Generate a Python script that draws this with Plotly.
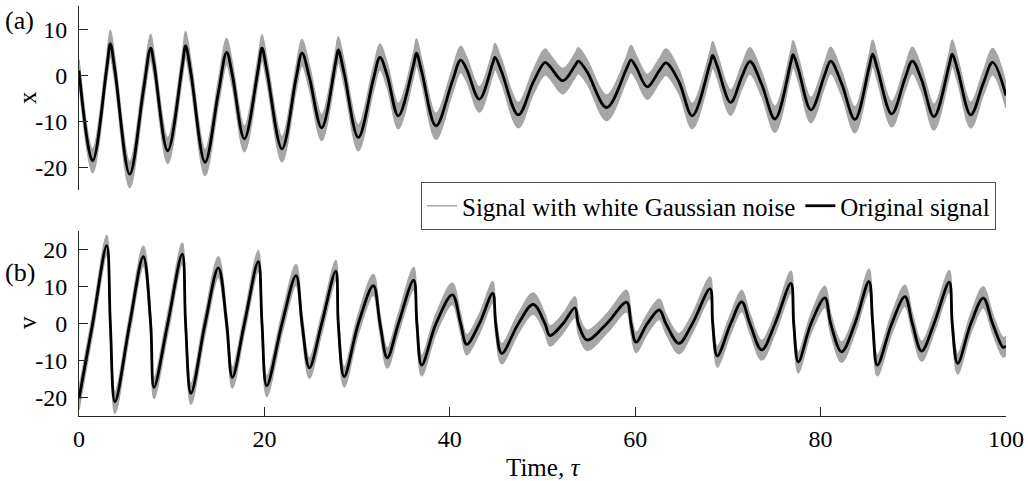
import plotly.graph_objects as go
from plotly.subplots import make_subplots

# ---- displacement x(τ): turning points and inflections of the clean response ----
t_x = [0, 1.47, 2.99, 3.38, 3.88, 5.47, 6.94, 7.73, 8.09, 9.57,
       11.14, 11.5, 12.08, 13.6, 15.03, 15.93, 16.54, 17.84, 19.34, 19.74,
       20.25, 21.9, 23.41, 24.06, 24.85, 26.18, 27.7, 27.97, 28.6, 30.13,
       31.75, 32.47, 33.26, 34.45, 36.1, 36.4, 36.97, 38.51, 40.27, 41.17,
       41.82, 43.19, 44.63, 44.88, 45.6, 47.39, 49.0, 50.27, 50.8, 52.2,
       53.5, 53.86, 54.8, 56.92, 59.08, 59.55, 60.09, 61.3, 62.6, 63.32,
       64.72, 66.16, 68.07, 68.36, 68.86, 70.3, 71.49, 72.38, 73.65, 75.08,
       76.8, 77.03, 77.6, 78.96, 80.47, 81.09, 82.27, 83.7, 85.22, 85.62,
       86.12, 87.67, 89.1, 89.9, 90.9, 92.23, 93.88, 94.2, 94.79, 96.2,
       97.55, 98.56, 100]
x_orig = [1.0, -18.6, 1.5, 6.8, 1.0, -21.5, -3.4, 5.9, 2.5, -16.4,
          2.0, 6.4, 0.4, -18.9, -3.8, 5.0, 0.1, -13.8, 1.5, 5.9,
          1.2, -16.0, -0.7, 4.8, -0.4, -11.4, 3.0, 5.5, 0.5, -13.5,
          -0.9, 3.9, -0.1, -8.8, 2.4, 4.8, 0.8, -11.0, -1.3, 3.3,
          1.3, -5.2, 2.6, 3.9, 0.7, -8.6, -1.5, 2.8, 1.9, -1.2,
          2.1, 3.1, 0.8, -7.0, 1.5, 3.3, 1.8, -2.5, 1.0, 2.7,
          -1.4, -8.8, 2.5, 4.3, 1.9, -5.9, -0.4, 3.0, -2.0, -9.5,
          2.9, 4.5, 1.3, -7.5, 0.3, 3.1, -1.8, -9.6, 1.6, 4.6,
          1.5, -8.4, -0.7, 3.1, -1.0, -9.0, 2.3, 4.6, 1.1, -8.6,
          -1.7, 2.8, -4.4]
# upper / lower extent of the noisy record at the same instants
x_noisy_hi = [3.4, -16.0, 4.1, 9.8, 3.6, -18.8, -0.8, 8.9, 5.1, -13.6,
              4.6, 9.5, 3.0, -16.2, -1.2, 8.0, 2.7, -11.1, 4.1, 8.8,
              3.8, -13.3, 1.9, 7.8, 2.2, -8.6, 5.6, 8.4, 3.1, -10.8,
              1.7, 6.8, 2.5, -6.1, 5.0, 7.9, 3.4, -8.3, 1.3, 6.3,
              3.9, -2.5, 5.2, 6.9, 3.3, -5.9, 1.1, 5.7, 4.5, 1.5,
              4.7, 6.0, 3.4, -4.3, 4.1, 6.5, 4.4, 0.2, 3.6, 5.7,
              1.2, -6.1, 5.1, 7.3, 4.5, -3.2, 2.2, 6.0, 0.6, -6.8,
              5.5, 7.5, 3.9, -4.8, 2.9, 6.1, 0.8, -6.9, 4.2, 7.6,
              4.1, -5.7, 1.9, 6.1, 1.6, -6.3, 4.9, 7.7, 3.7, -5.9,
              0.9, 5.8, -1.7]
x_noisy_lo = [-1.6, -21.2, -1.0, 4.0, -1.6, -24.4, -6.0, 3.2, -0.1, -19.2,
              -0.6, 3.7, -2.2, -21.8, -6.4, 2.3, -2.5, -16.6, -1.1, 3.2,
              -1.4, -18.8, -3.3, 2.1, -3.0, -14.2, 0.4, 2.8, -2.1, -16.4,
              -3.5, 1.2, -2.7, -11.6, -0.2, 2.1, -1.8, -13.9, -3.9, 0.6,
              -1.3, -8.0, 0.0, 1.2, -1.9, -11.4, -4.1, 0.1, -0.7, -4.0,
              -0.5, 0.4, -1.8, -9.8, -1.1, 0.6, -0.8, -5.2, -1.6, 0.0,
              -4.0, -11.6, -0.1, 1.6, -0.7, -8.7, -3.0, 0.3, -4.6, -12.4,
              0.3, 1.8, -1.3, -10.3, -2.3, 0.4, -4.4, -12.5, -1.0, 1.9,
              -1.1, -11.2, -3.3, 0.4, -3.6, -11.9, -0.3, 1.9, -1.5, -11.4,
              -4.3, 0.1, -7.1]

# ---- velocity v(τ): troughs, zero crossings and peaks ----
t_v = [0, 1.47, 2.99, 3.38, 3.88, 5.47, 6.94, 7.73, 8.09, 9.57,
       11.14, 11.5, 12.08, 13.6, 15.03, 15.93, 16.54, 17.84, 19.34, 19.74,
       20.25, 21.9, 23.41, 24.06, 24.85, 26.18, 27.7, 27.97, 28.6, 30.13,
       31.75, 32.47, 33.26, 34.45, 36.1, 36.45, 36.97, 38.51, 40.27, 41.17,
       41.82, 43.19, 44.63, 44.95, 45.6, 47.39, 49.0, 50.27, 50.8, 52.2,
       53.5, 53.86, 54.8, 56.92, 59.08, 59.55, 60.09, 61.3, 62.6, 63.32,
       64.72, 66.16, 68.07, 68.36, 68.86, 70.3, 71.49, 72.38, 73.65, 75.08,
       76.8, 77.1, 77.6, 78.96, 80.47, 81.09, 82.27, 83.7, 85.22, 85.62,
       86.12, 87.67, 89.1, 89.9, 90.9, 92.23, 93.88, 94.2, 94.79, 96.2,
       97.55, 98.56, 99.7, 100]
v_orig = [-20.2, 0, 21.1, 0, -21.1, 0, 18.1, 0, -17.2, 0,
          18.8, 0, -18.8, 0, 15.1, 0, -14.5, 0, 16.8, 0,
          -16.8, 0, 13.0, 0, -11.9, 0, 14.2, 0, -14.3, 0,
          10.3, 0, -9.2, 0, 11.8, 0, -11.2, 0, 7.8, 0,
          -5.6, 0, 8.2, 0, -8.0, 0, 5.2, 0, -3.2, 0,
          4.3, 0, -4.4, 0, 5.8, 0, -5.0, 0, 3.7, 0,
          -5.3, 0, 9.4, 0, -8.7, 0, 5.9, 0, -7.1, 0,
          10.9, 0, -10.3, 0, 7.0, 0, -7.6, 0, 11.4, 0,
          -11.2, 0, 7.3, 0, -7.4, 0, 11.2, 0, -10.7, 0,
          6.9, 0, -6.4, -6.0]
v_noisy_hi = [-17.5, 2.6, 23.9, 2.7, -18.5, 2.5, 21.0, 2.6, -14.6, 2.7,
              21.8, 2.5, -16.2, 2.7, 18.1, 2.6, -11.9, 2.5, 19.7, 2.6,
              -14.2, 2.6, 16.0, 2.7, -9.3, 2.5, 17.1, 2.6, -11.7, 2.6,
              13.3, 2.5, -6.6, 2.6, 15.2, 2.7, -8.6, 2.6, 10.9, 2.5,
              -3.0, 2.6, 11.4, 2.6, -5.4, 2.7, 8.3, 2.5, -0.6, 2.6,
              7.3, 2.6, -1.8, 2.6, 9.0, 2.7, -2.4, 2.6, 6.7, 2.5,
              -2.7, 2.6, 12.6, 2.6, -6.1, 2.6, 9.0, 2.6, -4.5, 2.5,
              14.2, 2.6, -7.7, 2.6, 10.1, 2.6, -5.0, 2.5, 14.7, 2.6,
              -8.6, 2.6, 10.4, 2.6, -4.8, 2.6, 14.4, 2.5, -8.1, 2.6,
              10.0, 2.6, -3.8, -3.4]
v_noisy_lo = [-23.2, -2.6, 18.5, -2.7, -24.2, -2.6, 15.5, -2.5, -20.2, -2.7,
              16.2, -2.6, -21.8, -2.7, 12.5, -2.6, -17.4, -2.5, 14.2, -2.7,
              -19.7, -2.6, 10.4, -2.7, -14.7, -2.6, 11.6, -2.5, -17.1, -2.7,
              7.7, -2.6, -12.0, -2.6, 9.2, -2.7, -14.1, -2.6, 5.2, -2.5,
              -8.4, -2.6, 5.6, -2.7, -10.8, -2.6, 2.6, -2.6, -6.0, -2.5,
              1.7, -2.7, -7.2, -2.6, 3.2, -2.6, -7.8, -2.7, 1.1, -2.6,
              -8.1, -2.5, 6.8, -2.7, -11.7, -2.6, 3.3, -2.6, -9.8, -2.7,
              8.3, -2.6, -13.3, -2.5, 4.4, -2.7, -10.4, -2.6, 8.8, -2.6,
              -14.1, -2.7, 4.7, -2.6, -10.1, -2.5, 8.6, -2.7, -13.6, -2.6,
              4.3, -2.6, -9.0, -8.5]

x_ticks = [0, 20, 40, 60, 80, 100]
x_ticktext = ["0", "20", "40", "60", "80", "100"]
top_yticks = [-20, -10, 0, 10]
top_yticktext = ["-20", "-10", "0", "10"]
bot_yticks = [-20, -10, 0, 10, 20]
bot_yticktext = ["-20", "-10", "0", "10", "20"]

SERIF = "Liberation Serif"
GRAY = "#a6a6a6"
AXIS = "#262626"
W, H = 1028, 481
X0, X1 = 79, 1006          # horizontal extent of both panels, px

fig = make_subplots(rows=2, cols=1)


def add_panel(row, t, clean, lo, hi, legend):
    fig.add_trace(go.Scatter(
        x=t, y=lo, mode="lines", line=dict(color=GRAY, width=1.5, shape="spline", smoothing=1),
        name="Signal with white Gaussian noise", showlegend=legend, legendrank=1,
        hoverinfo="skip"), row=row, col=1)
    fig.add_trace(go.Scatter(
        x=t, y=hi, mode="lines", line=dict(color=GRAY, width=1.5, shape="spline", smoothing=1),
        fill="tonexty", fillcolor=GRAY, showlegend=False, hoverinfo="skip"), row=row, col=1)
    fig.add_trace(go.Scatter(
        x=t, y=clean, mode="lines", line=dict(color="black", width=2.8, shape="spline", smoothing=1),
        name="Original signal", showlegend=legend, legendrank=2), row=row, col=1)


for series in (x_orig, x_noisy_hi, x_noisy_lo):
    assert len(series) == len(t_x)
for series in (v_orig, v_noisy_hi, v_noisy_lo):
    assert len(series) == len(t_v)

add_panel(1, t_x, x_orig, x_noisy_lo, x_noisy_hi, True)
add_panel(2, t_v, v_orig, v_noisy_lo, v_noisy_hi, False)

tickfont = dict(family=SERIF, size=24, color="black")
yaxis_common = dict(showline=True, linecolor=AXIS, linewidth=1, ticks="inside", ticklen=9,
                    tickcolor=AXIS, showgrid=False, zeroline=False, automargin=False,
                    ticklabelstandoff=6, tickfont=tickfont)

fig.update_layout(
    width=W, height=H,
    margin=dict(l=0, r=0, t=0, b=0, autoexpand=False),
    paper_bgcolor="white", plot_bgcolor="white",
    font=dict(family=SERIF, size=24, color="black"),
    xaxis=dict(domain=[X0 / W, X1 / W], range=[0, 100], visible=False, automargin=False),
    xaxis2=dict(domain=[X0 / W, X1 / W], range=[0, 100], showline=True, linecolor=AXIS,
                linewidth=1, ticks="inside", ticklen=9, tickcolor=AXIS, showgrid=False,
                zeroline=False, tickvals=x_ticks, ticktext=x_ticktext, automargin=False,
                ticklabelstandoff=1, tickfont=tickfont),
    yaxis=dict(domain=[1 - 190.3 / H, 1 - 6.3 / H], range=[-25, 15],
               tickvals=top_yticks, ticktext=top_yticktext, **yaxis_common),
    yaxis2=dict(domain=[1 - 416.2 / H, 1 - 231.2 / H], range=[-25, 25],
                tickvals=bot_yticks, ticktext=bot_yticktext, **yaxis_common),
    legend=dict(orientation="h", x=996 / W, xanchor="right", y=1 - 206 / H, yanchor="middle",
                bgcolor="white", bordercolor="#4d4d4d", borderwidth=1,
                font=dict(family=SERIF, size=25, color="black"),
                traceorder="normal", itemwidth=30),
    showlegend=True,
)


def label(text, px, py, angle=0, size=24, anchor="center"):
    fig.add_annotation(text=text, x=px / W, y=1 - py / H, xref="paper", yref="paper",
                       xanchor=anchor, yanchor="middle", showarrow=False, textangle=angle,
                       font=dict(family=SERIF, size=size, color="black"))


label("(a)", 3, 20, size=26, anchor="left")
label("(b)", 3, 272, size=26, anchor="left")
label("x", 27, 98, angle=-90, size=25)
label("v", 27, 323, angle=-90, size=25)
label("Time, <i>τ</i>", 542.5, 467, size=25)

fig.write_html("out.html")
